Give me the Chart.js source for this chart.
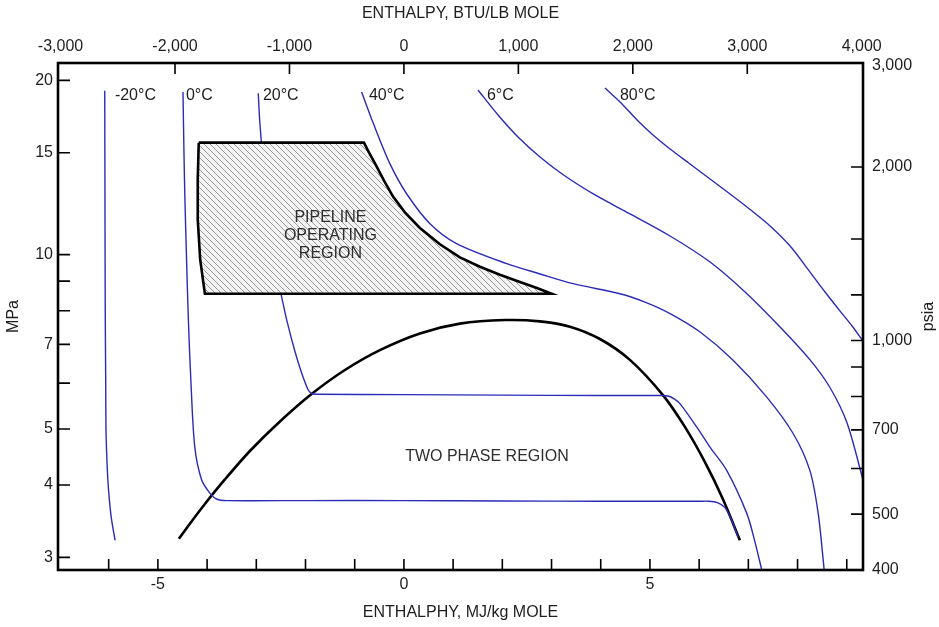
<!DOCTYPE html>
<html><head><meta charset="utf-8">
<script src="https://cdn.jsdelivr.net/npm/chart.js@4.4.1/dist/chart.umd.min.js"></script>
<style>html,body{margin:0;padding:0;background:#fff;}#wrap{width:939px;height:627px;}</style>
</head><body><div id="wrap"><canvas id="c" width="939" height="627"></canvas></div>
<script>
// ---------- DATA (enthalpy MJ/kg mole, pressure MPa) ----------
const isoNames = ['-20°C','0°C','20°C','40°C','6°C','80°C'];

const isoM20_H = [-6.08,-6.075,-6.07,-6.06,-6.055,-6.035,-6.01,-5.97,-5.94,-5.87];
const isoM20_P = [19.2,12,8,6,5,4.4,4.0,3.65,3.48,3.21];

const iso0_H = [-4.49,-4.47,-4.45,-4.42,-4.38,-4.33,-4.25,-4.11,-3.94,-3.80,-3.6,-2,0,2,4,6.0,6.2,6.37,6.52,6.66,6.79];
const iso0_P = [19.1,15,12.4,10,7.7,6.07,4.65,4.08,3.87,3.78,3.76,3.76,3.76,3.755,3.75,3.75,3.75,3.73,3.66,3.48,3.25];

const iso20_H = [-2.96,-2.93,-2.86,-2.72,-2.555,-2.47,-2.38,-2.22,-2.08,-1.95,-1.88,-1.8,0,2,4,5.2,5.37,5.5,5.61,5.95,6.22,6.56,6.97,7.13,7.27];
const iso20_P = [19.0,17.0,14.4,11.0,9.03,8.34,7.7,6.83,6.25,5.85,5.76,5.74,5.73,5.72,5.71,5.71,5.70,5.63,5.53,5.04,4.65,4.24,3.57,3.2,2.86];

const iso40_H = [-0.86,-0.62,-0.285,0.055,0.53,1.07,2.09,2.77,3.44,4.39,4.9,5.41,6.02,6.69,7.37,7.91,8.25,8.42,8.54];
const iso40_P = [19.1,16.84,14.36,12.74,11.31,10.45,9.65,9.26,8.91,8.56,8.28,7.91,7.35,6.57,5.68,4.91,4.24,3.57,2.86];

const iso6_H = [1.506,1.913,2.319,2.766,3.274,3.884,4.596,5.409,6.222,6.933,7.644,8.254,8.661,9.006,9.331];
const iso6_P = [19.25,17.43,15.97,14.75,13.67,12.68,11.76,10.77,9.71,8.62,7.50,6.58,5.89,5.12,4.08];

const iso80_H = [4.087,4.433,4.738,5.063,5.409,5.815,6.222,6.628,7.035,7.441,7.848,8.254,8.559,8.864,9.108,9.331];
const iso80_P = [19.40,18.21,17.08,16.09,15.22,14.34,13.51,12.73,11.97,11.21,10.35,9.33,8.62,7.99,7.53,7.09];

const dome_H = [-4.573,-4.350,-4.045,-3.638,-3.130,-2.520,-1.870,-1.199,-0.488,0.325,1.138,2.053,2.764,3.374,3.984,4.593,5.264,5.711,6.118,6.484,6.829];
const dome_P = [3.23,3.43,3.71,4.09,4.58,5.15,5.75,6.32,6.84,7.31,7.60,7.71,7.67,7.51,7.15,6.58,5.72,5.04,4.38,3.78,3.21];

const pipe_H = [-4.17,-0.813,-0.711,-0.569,-0.407,-0.224,0.02,0.325,0.732,1.138,1.545,1.951,2.358,2.703,3.002,-4.045,-4.14,-4.19,-4.19,-4.17];
const pipe_P = [15.61,15.61,15.02,14.27,13.44,12.61,11.83,11.12,10.42,9.89,9.53,9.23,8.97,8.76,8.56,8.56,9.8,11.5,13.5,15.61];

// label anchor positions (data units)
const isoLabel_H = [-5.874,-4.431,-2.866,-0.711,1.687,4.39];
const isoLabel_P = [18.84,18.84,18.84,18.84,18.84,18.84];
const pipeText = ['PIPELINE','OPERATING','REGION'];
const pipeText_H = [-1.494,-1.494,-1.494];
const pipeText_P = [11.61,10.80,10.06];
const twoPhaseText = 'TWO PHASE REGION';
const twoPhase_H = 1.687, twoPhase_P = 4.48;

// ---------- TICKS ----------
const xTicksMJ = [-5,0,5];
const xMarksMJ = [-6,-5,-4,-3,-2,-1,0,1,2,3,4,5,6,7,8,9];
const xTicksBTU = [-3000,-2000,-1000,0,1000,2000,3000,4000];
const xMarksBTU = [-2000,-1000,0,1000,2000,3000];
const yTicksMPa = [3,4,5,7,10,15,20];
const yMarksMPa = [3,4,5,6,7,8,9,10,15,20];
const yTicksPsia = [400,500,700,1000,2000,3000];
const yMarksPsia = [500,600,700,800,900,1000,1200,1500,2000];

const X_MIN = -7.03, X_MAX = 9.33;
const BTU_PER_MJ = 429.92;
const Y_MIN = 2.853, Y_MAX = 21.43;
const Y2_MIN = 400, Y2_MAX = 3030;

// ---------- CHART ----------
const FONT = {family:"'Liberation Sans', Arial, sans-serif", size:16};
const TXT = '#1e1e1e';
const BLUE = '#2b2bb8';

function pts(H,P){ return H.map((h,i)=>({x:h,y:P[i]})); }
function hatch(){
  const n=6;
  const c=document.createElement('canvas'); c.width=n; c.height=n;
  const g=c.getContext('2d');
  g.fillStyle='#f3f3f3'; g.fillRect(0,0,n,n);
  g.strokeStyle='#9a9a9a'; g.lineWidth=1;
  g.beginPath();
  for(let k=-1;k<=1;k++){ g.moveTo(k*n,0); g.lineTo(k*n+n,n); }
  g.stroke();
  return g.createPattern(c,'repeat');
}
function iso(H,P){
  return {data:pts(H,P), showLine:true, borderColor:BLUE, borderWidth:1.4, pointRadius:0, tension:0.3, fill:false};
}
const fmt = v => Number(v).toLocaleString('en-US');

const decor = {
  id:'decor',
  afterDatasetsDraw(chart){
    const {ctx, chartArea:a, scales:s} = chart;
    ctx.save();
    ctx.font = "16px 'Liberation Sans', Arial, sans-serif";
    ctx.fillStyle = TXT; ctx.textBaseline='middle'; ctx.textAlign='left';
    isoNames.forEach((t,i)=>ctx.fillText(t, s.x.getPixelForValue(isoLabel_H[i]), s.y.getPixelForValue(isoLabel_P[i])));
    ctx.textAlign='center'; ctx.fillStyle='#2e2e2e';
    pipeText.forEach((t,i)=>ctx.fillText(t, s.x.getPixelForValue(pipeText_H[i]), s.y.getPixelForValue(pipeText_P[i])));
    ctx.fillText(twoPhaseText, s.x.getPixelForValue(twoPhase_H), s.y.getPixelForValue(twoPhase_P));
    // tick marks
    ctx.strokeStyle='#000'; ctx.lineWidth=1.6; ctx.beginPath();
    const L=11;
    xMarksMJ.forEach(v=>{const p=s.x.getPixelForValue(v); ctx.moveTo(p,a.bottom); ctx.lineTo(p,a.bottom-L);});
    xMarksBTU.forEach(v=>{const p=s.x2.getPixelForValue(v); ctx.moveTo(p,a.top); ctx.lineTo(p,a.top+L);});
    yMarksMPa.forEach(v=>{const p=s.y.getPixelForValue(v); ctx.moveTo(a.left,p); ctx.lineTo(a.left+L+1,p);});
    yMarksPsia.forEach(v=>{const p=s.y2.getPixelForValue(v); ctx.moveTo(a.right,p); ctx.lineTo(a.right-L-1,p);});
    ctx.stroke();
    // frame
    ctx.lineWidth=2.6; ctx.strokeRect(a.left,a.top,a.right-a.left,a.bottom-a.top);
    // right title
    ctx.fillStyle=TXT; ctx.translate(929,(a.top+a.bottom)/2); ctx.rotate(-Math.PI/2);
    ctx.textAlign='center'; ctx.fillText('psia',0,0);
    ctx.restore();
  }
};

new Chart(document.getElementById('c'), {
  type:'scatter',
  data:{datasets:[
    {data:pts(pipe_H,pipe_P), showLine:true, fill:'shape', backgroundColor:hatch(), borderColor:'#000', borderWidth:2.6, pointRadius:0, tension:0, borderJoinStyle:'miter'},
    iso(isoM20_H,isoM20_P), iso(iso0_H,iso0_P), iso(iso20_H,iso20_P),
    iso(iso40_H,iso40_P), iso(iso6_H,iso6_P), iso(iso80_H,iso80_P),
    {data:pts(dome_H,dome_P), showLine:true, borderColor:'#000', borderWidth:2.6, pointRadius:0, tension:0.3, fill:false}
  ]},
  options:{
    responsive:false, animation:false, devicePixelRatio:1,
    layout:{padding:0},
    plugins:{legend:{display:false}, tooltip:{enabled:false}},
    scales:{
      x:{type:'linear', position:'bottom', bounds:'data', min:X_MIN, max:X_MAX,
        afterBuildTicks:s=>{s.ticks=xTicksMJ.map(v=>({value:v}));},
        ticks:{autoSkip:false, maxRotation:0, padding:5, color:TXT, font:FONT, callback:v=>String(v)},
        grid:{display:false, drawTicks:false}, border:{display:false},
        title:{display:true, text:'ENTHALPHY, MJ/kg MOLE', color:TXT, font:FONT, padding:{top:0,bottom:5}},
        afterFit:s=>{s.height=57;}},
      x2:{type:'linear', position:'top', bounds:'data', min:X_MIN*BTU_PER_MJ, max:X_MAX*BTU_PER_MJ,
        afterBuildTicks:s=>{s.ticks=xTicksBTU.map(v=>({value:v}));},
        ticks:{autoSkip:false, maxRotation:0, padding:7, color:TXT, font:FONT, callback:fmt},
        grid:{display:false, drawTicks:false}, border:{display:false},
        title:{display:true, text:'ENTHALPY, BTU/LB MOLE', color:TXT, font:FONT, padding:{top:4,bottom:0}},
        afterFit:s=>{s.height=63;}},
      y:{type:'logarithmic', position:'left', bounds:'data', min:Y_MIN, max:Y_MAX,
        afterBuildTicks:s=>{s.ticks=yTicksMPa.map(v=>({value:v}));},
        ticks:{autoSkip:false, padding:5, color:TXT, font:FONT, callback:fmt},
        grid:{display:false, drawTicks:false}, border:{display:false},
        title:{display:true, text:'MPa', color:TXT, font:FONT, padding:{top:4,bottom:0}},
        afterFit:s=>{s.width=58;}},
      y2:{type:'logarithmic', position:'right', bounds:'data', min:Y2_MIN, max:Y2_MAX,
        afterBuildTicks:s=>{s.ticks=yTicksPsia.map(v=>({value:v}));},
        ticks:{autoSkip:false, padding:9, color:TXT, font:FONT, callback:fmt},
        grid:{display:false, drawTicks:false}, border:{display:false},
        title:{display:false},
        afterFit:s=>{s.width=76;}}
    }
  },
  plugins:[decor]
});
</script>
</body></html>
